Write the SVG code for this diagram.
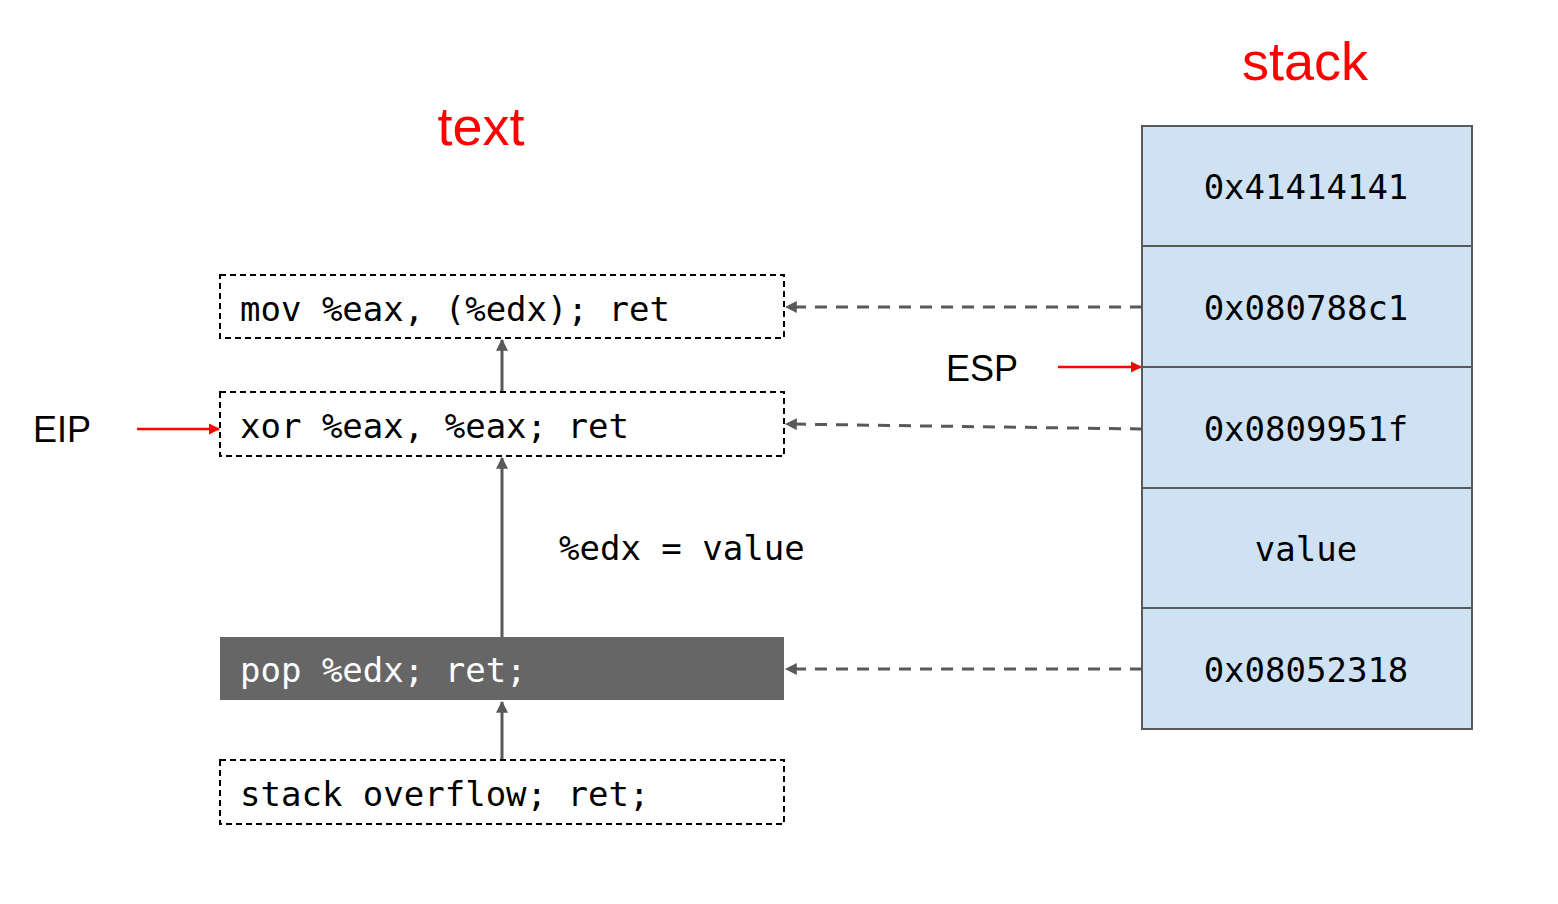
<svg xmlns="http://www.w3.org/2000/svg" width="1558" height="904" viewBox="0 0 1558 904">
<style>
.mono{font-family:"DejaVu Sans Mono","Liberation Mono",monospace;font-size:34px;fill:#000}
.sans{font-family:"Liberation Sans",Arial,sans-serif;fill:#000}
.title{font-family:"Liberation Sans",Arial,sans-serif;font-size:54px;fill:#ff0000}
.dbox{fill:#fff;stroke:#000;stroke-width:2;stroke-dasharray:6 4}
.cell{fill:#cfe2f3;stroke:#595959;stroke-width:2}
.gray{stroke:#595959;stroke-width:3;fill:none}
.gdash{stroke:#595959;stroke-width:3;fill:none;stroke-dasharray:12 9}
.red{stroke:#ff0000;stroke-width:2.5;fill:none}
</style>
<defs>
<marker id="ag" viewBox="0 0 10 10" refX="9" refY="5" markerWidth="4" markerHeight="4" orient="auto" markerUnits="strokeWidth"><path d="M0,0 L10,5 L0,10 z" fill="#595959"/></marker>
<marker id="ar" viewBox="0 0 10 10" refX="9" refY="5" markerWidth="4.5" markerHeight="4.5" orient="auto" markerUnits="strokeWidth"><path d="M0,0 L10,5 L0,10 z" fill="#ff0000"/></marker>
</defs>
<rect width="1558" height="904" fill="#fff"/>
<text class="title" x="481" y="145" text-anchor="middle">text</text>
<text class="title" x="1305" y="80" text-anchor="middle">stack</text>

<g id="connectors">
<line class="gray" x1="502" y1="392" x2="502" y2="340" marker-end="url(#ag)"/>
<line class="gray" x1="502" y1="637" x2="502" y2="458" marker-end="url(#ag)"/>
<line class="gray" x1="502" y1="760" x2="502" y2="702" marker-end="url(#ag)"/>
<line class="gdash" x1="1142" y1="307" x2="786" y2="307" marker-end="url(#ag)"/>
<line class="gdash" x1="1142" y1="429" x2="786" y2="424" marker-end="url(#ag)"/>
<line class="gdash" x1="1142" y1="669" x2="786" y2="669" marker-end="url(#ag)"/>
<line class="red" x1="1058" y1="367" x2="1141" y2="367" marker-end="url(#ar)"/>
<line class="red" x1="137" y1="429" x2="219" y2="429" marker-end="url(#ar)"/>
</g>

<g id="node-mov"><rect class="dbox" x="220" y="275" width="564" height="63"/><text class="mono" x="240" y="321">mov %eax, (%edx); ret</text></g>
<g id="node-xor"><rect class="dbox" x="220" y="392" width="564" height="64"/><text class="mono" x="240" y="438">xor %eax, %eax; ret</text></g>
<g id="node-pop"><rect x="220" y="637" width="564" height="63" fill="#666666"/><text class="mono" x="240" y="682" style="fill:#fff">pop %edx; ret;</text></g>
<g id="node-overflow"><rect class="dbox" x="220" y="760" width="564" height="64"/><text class="mono" x="240" y="806">stack overflow; ret;</text></g>
<g id="label-edx"><text class="mono" x="559" y="560">%edx = value</text></g>
<g id="label-eip"><text class="sans" x="33" y="442" font-size="36">EIP</text></g>
<g id="label-esp"><text class="sans" x="946" y="381" font-size="36">ESP</text></g>

<g id="stack">
<rect class="cell" x="1142" y="126" width="330" height="120"/>
<rect class="cell" x="1142" y="246" width="330" height="121"/>
<rect class="cell" x="1142" y="367" width="330" height="121"/>
<rect class="cell" x="1142" y="488" width="330" height="120"/>
<rect class="cell" x="1142" y="608" width="330" height="121"/>
<text class="mono" x="1306" y="199" text-anchor="middle">0x41414141</text>
<text class="mono" x="1306" y="320" text-anchor="middle">0x080788c1</text>
<text class="mono" x="1306" y="441" text-anchor="middle">0x0809951f</text>
<text class="mono" x="1306" y="561" text-anchor="middle">value</text>
<text class="mono" x="1306" y="682" text-anchor="middle">0x08052318</text>
</g>
</svg>
